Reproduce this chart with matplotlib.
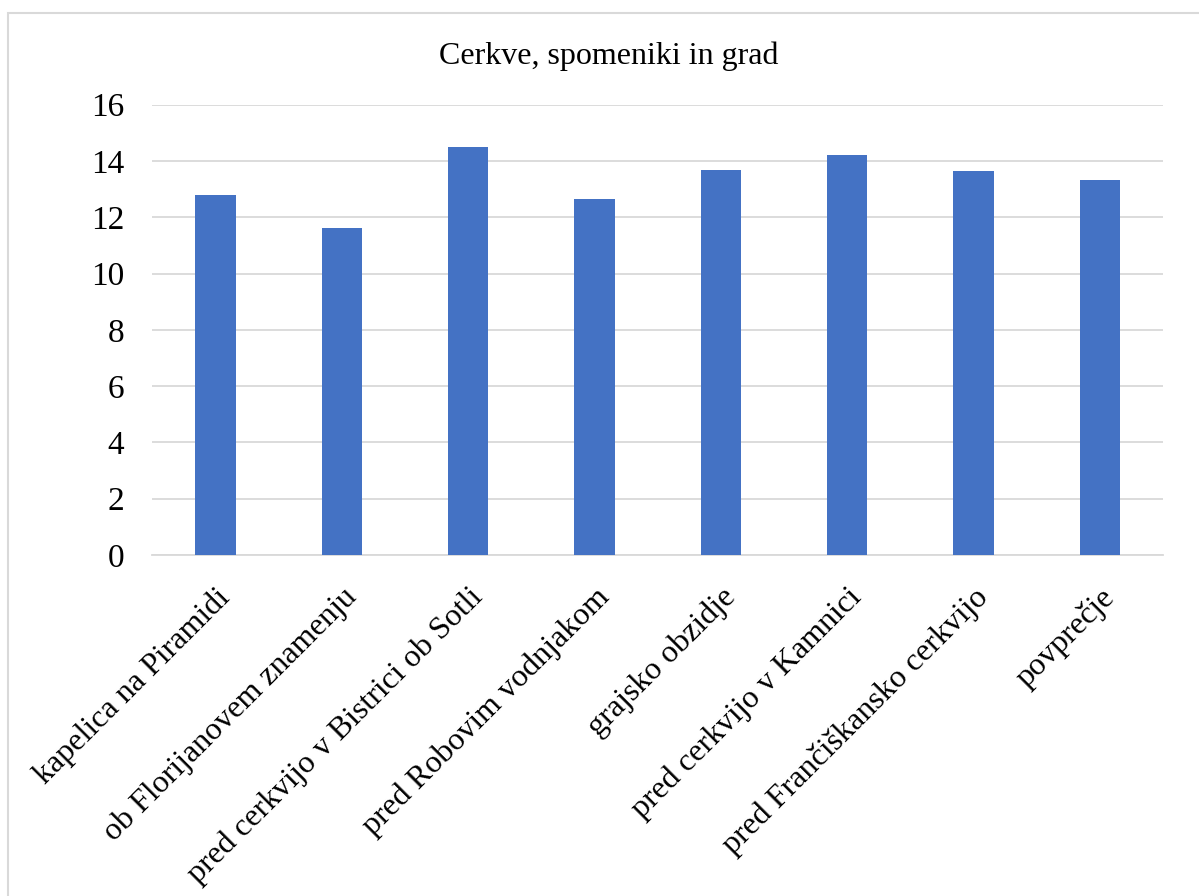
import matplotlib.pyplot as plt
import numpy as np

plt.rcParams["font.family"] = ["Liberation Serif", "DejaVu Serif"]

categories = [
    "kapelica na Piramidi",
    "ob Florijanovem znamenju",
    "pred cerkvijo v Bistrici ob Sotli",
    "pred Robovim vodnjakom",
    "grajsko obzidje",
    "pred cerkvijo v Kamnici",
    "pred Frančiškansko cerkvijo",
    "povprečje",
]
values = [12.81, 11.61, 14.50, 12.66, 13.69, 14.23, 13.63, 13.31]
yticks = [0, 2, 4, 6, 8, 10, 12, 14, 16]

BAR_COLOR = "#4472C4"
GRID_COLOR = "#D9D9D9"

fig = plt.figure(figsize=(11.99, 8.96), dpi=100)
ax = fig.add_axes([0.127, 0.3806, 0.843, 0.5025])

x = np.arange(len(categories))
ax.bar(x, values, width=0.32, color=BAR_COLOR, zorder=3)

ax.set_xlim(-0.5, len(categories) - 0.5)
ax.set_ylim(0, 16)
ax.set_yticks(yticks)
ax.yaxis.grid(True, color=GRID_COLOR, linewidth=1.3, zorder=0)
ax.set_xticks(x)
ax.set_xticklabels(categories, rotation=45, ha="right", va="top",
                   rotation_mode="anchor", fontsize=23)
ax.tick_params(axis="y", labelsize=24, length=0, pad=20)
ax.tick_params(axis="x", length=0, pad=20)
for s in ["top", "right", "left"]:
    ax.spines[s].set_visible(False)
ax.spines["bottom"].set_color(GRID_COLOR)
ax.spines["bottom"].set_linewidth(1.3)

fig.text(0.5075, 0.9375, "Cerkve, spomeniki in grad", ha="center",
         va="center", fontsize=23)

# light frame around the chart area (runs off the right and bottom edges)
frame = plt.Rectangle((0.0067, -0.05), 1.1, 1.035, transform=fig.transFigure,
                      fill=False, edgecolor=GRID_COLOR, linewidth=1.5)
fig.patches.append(frame)

fig.savefig("out.png", dpi=100)
